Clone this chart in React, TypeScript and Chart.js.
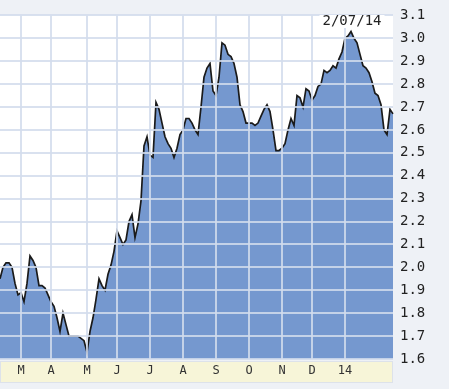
import React, { useEffect, useRef } from "react";
import { Chart, registerables } from "chart.js";

Chart.register(...registerables);

// Daily closing values (sampled), Feb 2013 – Feb 7 2014
const prices: number[] = [
  1.95, 2.00, 2.02, 2.02, 2.00, 1.93, 1.88, 1.89, 1.85, 1.93, 2.05, 2.03,
  2.00, 1.92, 1.92, 1.91, 1.88, 1.85, 1.83, 1.78, 1.72, 1.80, 1.75, 1.70,
  1.70, 1.70, 1.70, 1.69, 1.68, 1.63, 1.72, 1.78, 1.86, 1.95, 1.92, 1.90,
  1.97, 2.01, 2.07, 2.16, 2.13, 2.10, 2.12, 2.20, 2.23, 2.13, 2.19, 2.29,
  2.53, 2.57, 2.49, 2.48, 2.72, 2.69, 2.63, 2.57, 2.54, 2.52, 2.48, 2.52,
  2.58, 2.60, 2.65, 2.65, 2.63, 2.60, 2.58, 2.70, 2.83, 2.87, 2.89, 2.77,
  2.75, 2.83, 2.98, 2.97, 2.93, 2.92, 2.89, 2.83, 2.71, 2.68, 2.63, 2.63,
  2.63, 2.62, 2.63, 2.66, 2.69, 2.71, 2.68, 2.60, 2.51, 2.51, 2.52, 2.54,
  2.60, 2.65, 2.62, 2.75, 2.74, 2.70, 2.78, 2.77, 2.73, 2.75, 2.79, 2.80,
  2.86, 2.85, 2.86, 2.88, 2.87, 2.91, 2.94, 3.00, 3.01, 3.03, 3.00, 2.98,
  2.93, 2.88, 2.87, 2.85, 2.81, 2.76, 2.75, 2.71, 2.60, 2.58, 2.69, 2.67,
];

// Month boundaries (index into the series) and their labels
const monthLabels: string[] = ["M", "A", "M", "J", "J", "A", "S", "O", "N", "D", "14"];
const monthIndex: number[] = [7, 17, 29, 39, 50, 61, 72, 83, 94, 104, 115];

const yMin = 1.6;
const yMax = 3.1;
const yStep = 0.1;
const lastDateLabel = "2/07/14";

const GRID = "rgba(210,220,236,0.85)";
const MONO = "'DejaVu Sans Mono', monospace";

const bgPlugin = {
  id: "bgPlugin",
  beforeDraw(chart: any) {
    const { ctx, chartArea: a, width, height } = chart;
    ctx.save();
    ctx.fillStyle = "#eef1f6";
    ctx.fillRect(0, 0, width, height);
    ctx.fillStyle = "#ffffff";
    ctx.fillRect(a.left, a.top, a.right - a.left, a.bottom - a.top);
    ctx.fillStyle = "#f7f5d8";
    ctx.fillRect(a.left, a.bottom + 3, a.right - a.left, 20);
    ctx.strokeStyle = "#dde2ea";
    ctx.lineWidth = 1;
    ctx.strokeRect(a.left + 0.5, a.bottom + 2.5, a.right - a.left - 1, 21);
    ctx.restore();
  },
  afterDraw(chart: any) {
    const { ctx } = chart;
    ctx.save();
    ctx.font = `14px ${MONO}`;
    const w = ctx.measureText(lastDateLabel).width;
    const cx = 352;
    ctx.fillStyle = "#ffffff";
    ctx.fillRect(cx - w / 2 - 3, 15, w + 6, 13);
    ctx.fillStyle = "#222222";
    ctx.textAlign = "center";
    ctx.textBaseline = "middle";
    ctx.fillText(lastDateLabel, cx, 21);
    ctx.restore();
  },
};

export default function App() {
  const ref = useRef<HTMLCanvasElement | null>(null);

  useEffect(() => {
    if (!ref.current) return;
    const labels = prices.map((_, i) => String(i));
    const chart = new Chart(ref.current, {
      type: "line",
      data: {
        labels,
        datasets: [
          {
            data: prices,
            borderColor: "#1a1a1a",
            borderWidth: 1.7,
            backgroundColor: "#7598cf",
            fill: "start",
            pointRadius: 0,
            tension: 0,
          },
        ],
      },
      options: {
        animation: false,
        responsive: false,
        layout: { padding: { top: 13, left: 0, right: 0, bottom: 0 } },
        plugins: {
          legend: { display: false },
          tooltip: { enabled: false },
        },
        scales: {
          x: {
            type: "category",
            offset: false,
            afterBuildTicks: (scale: any) => {
              scale.ticks = monthIndex.map((v) => ({ value: v }));
            },
            afterFit: (scale: any) => {
              scale.height = 30;
            },
            ticks: {
              autoSkip: false,
              maxRotation: 0,
              padding: 5,
              color: "#333333",
              font: { family: MONO, size: 12 },
              callback: (value: any) => {
                const k = monthIndex.indexOf(Number(value));
                return k >= 0 ? monthLabels[k] : "";
              },
            },
            grid: { color: GRID, lineWidth: 2, drawTicks: false, z: 1 },
            border: { display: false },
          },
          y: {
            position: "right",
            min: yMin,
            max: yMax,
            afterFit: (scale: any) => {
              scale.width = 56;
            },
            ticks: {
              stepSize: yStep,
              padding: 7,
              color: "#222222",
              font: { family: MONO, size: 14 },
              callback: (v: any) => Number(v).toFixed(1),
            },
            grid: { color: GRID, lineWidth: 2, drawTicks: false, z: 1 },
            border: { display: false },
          },
        },
      },
      plugins: [bgPlugin],
    });
    return () => chart.destroy();
  }, []);

  return (
    <div style={{ position: "fixed", left: 0, top: 0, width: 449, height: 389 }}>
      <canvas ref={ref} width={449} height={389} style={{ display: "block" }} />
    </div>
  );
}
